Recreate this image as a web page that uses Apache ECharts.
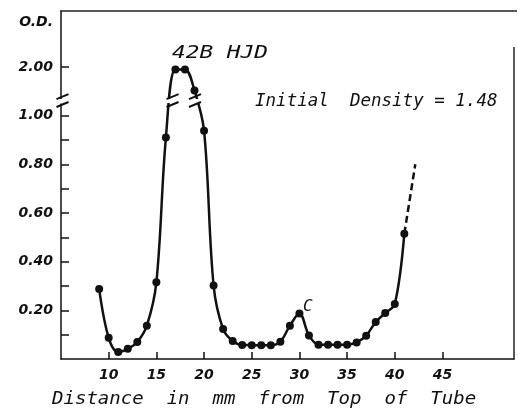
<!DOCTYPE html>
<html lang="en">
<head>
    <meta charset="UTF-8">
    <title>Optical density along the tube</title>
    <script src="https://cdn.jsdelivr.net/npm/echarts@6/dist/echarts.min.js"></script>
</head>
<body style="margin: 0; background: #fff">
<div id="main" style="width: 518px;height: 409px"></div>
</body>

<script>

    // distance (mm) and optical density of each measured point
    const distance = [9, 10, 11, 12, 13, 14, 15, 16, 17, 18, 19, 20, 21, 22, 23, 24, 25,
        26, 27, 28, 29, 30, 31, 32, 33, 34, 35, 36, 37, 38, 39, 40, 41];
    const density = [0.288, 0.087, 0.029, 0.042, 0.070, 0.137, 0.315, 0.910, 1.990, 1.990, 1.903, 0.938, 0.302,
        0.123, 0.074, 0.058, 0.057, 0.056, 0.056, 0.071, 0.137, 0.187, 0.097, 0.059, 0.059, 0.059, 0.059,
        0.068, 0.096, 0.152, 0.189, 0.226, 0.515];
    // extrapolated dashed part
    const dashDistance = [41, 42.15];
    const dashDensity = [0.515, 0.80];

    const xTicks = [10, 15, 20, 25, 30, 35, 40, 45];
    const yTicks = [0.1, 0.2, 0.3, 0.4, 0.5, 0.6, 0.7, 0.8, 0.9, 1.0, 2.0];
    const yLabels = [0.2, 0.4, 0.6, 0.8, 1.0, 2.0];
    const breakStart = 1.05;
    const breakEnd = 1.87;

    const ink = '#111';
    const numFont = {color: ink, fontFamily: 'DejaVu Sans', fontStyle: 'italic', fontWeight: 'bold', fontSize: 14};

    const chart = echarts.init(document.getElementById('main'));

    let option = {
        animation: false,
        grid: {left: 61, right: 4, top: 11, bottom: 50},
        xAxis: {
            type: 'value',
            min: 5,
            max: 52.5,
            axisLine: {lineStyle: {color: ink, width: 1.5}},
            axisTick: {inside: true, length: 7, customValues: xTicks, lineStyle: {color: ink, width: 1.5}},
            axisLabel: Object.assign({customValues: xTicks, margin: 9}, numFont),
            splitLine: {show: false}
        },
        yAxis: {
            type: 'value',
            min: 0,
            max: 2.23,
            breaks: [{start: breakStart, end: breakEnd, gap: 0.02}],
            breakArea: {show: false},
            axisLine: {show: true, lineStyle: {color: ink, width: 1.5}},
            axisTick: {show: true, inside: true, length: 8, customValues: yTicks, lineStyle: {color: ink, width: 1.5}},
            axisLabel: Object.assign({
                customValues: yLabels, margin: 8,
                formatter: function (v) {
                    return Number(v).toFixed(2);
                }
            }, numFont),
            splitLine: {show: false}
        },
        series: [
            {
                type: 'line',
                data: distance.map((x, i) => [x, density[i]]),
                smooth: 0.35,
                symbol: 'circle',
                symbolSize: 8,
                itemStyle: {color: ink},
                lineStyle: {color: ink, width: 2.5},
                z: 3
            },
            {
                type: 'line',
                data: dashDistance.map((x, i) => [x, dashDensity[i]]),
                symbol: 'none',
                lineStyle: {color: ink, width: 2.5, type: [7, 4]},
                z: 3
            }
        ]
    };
    chart.setOption(option);

    // decorations: frame, break marks and lettering
    const yUp = chart.convertToPixel({yAxisIndex: 0}, breakEnd);
    const yLow = chart.convertToPixel({yAxisIndex: 0}, breakStart);
    const xLeft = chart.convertToPixel({xAxisIndex: 0}, 16.7);
    const xRight = chart.convertToPixel({xAxisIndex: 0}, 19.05);

    function slash(cx, cy) {
        return {
            type: 'line', z: 101,
            shape: {x1: cx - 6, y1: cy + 2.5, x2: cx + 6, y2: cy - 2.5},
            style: {stroke: ink, lineWidth: 2}
        };
    }

    function text(str, x, y, size, scaleX, extra) {
        return {
            type: 'text', x: x, y: y, scaleX: scaleX, z: 101,
            style: Object.assign({
                text: str, fill: ink, fontFamily: 'DejaVu Sans Mono', fontStyle: 'italic',
                fontSize: size, align: 'left', verticalAlign: 'middle'
            }, extra || {})
        };
    }

    chart.setOption({
        graphic: [
            {type: 'line', z: 100, shape: {x1: 60.3, y1: 11, x2: 517, y2: 11}, style: {stroke: '#222', lineWidth: 1.5}},
            {type: 'line', z: 100, shape: {x1: 514, y1: 47, x2: 514, y2: 359.5}, style: {stroke: '#222', lineWidth: 1.5}},
            {type: 'rect', z: 100, shape: {x: 54, y: yUp + 0.5, width: 190, height: yLow - yUp - 1}, style: {fill: '#fff'}},
            slash(62.5, yUp - 2), slash(62.5, yLow + 1),
            slash(xLeft, yUp - 2), slash(xLeft, yLow + 1),
            slash(xRight, yUp - 2), slash(xRight, yLow + 1),
            {
                type: 'text', x: 53, y: 22.5, z: 101,
                style: Object.assign({text: 'O.D.', fill: ink, align: 'right', verticalAlign: 'middle'}, {
                    fontFamily: 'DejaVu Sans', fontStyle: 'italic', fontWeight: 'bold', fontSize: 14
                })
            },
            text('42B HJD', 172, 54, 17, 1.34),
            text('Initial  Density = 1.48', 255, 102, 17, 1.03),
            text('C', 303, 307, 16, 1),
            text('Distance  in  mm  from  Top  of  Tube', 52, 400, 17, 1.12)
        ]
    });

</script>

</html>
